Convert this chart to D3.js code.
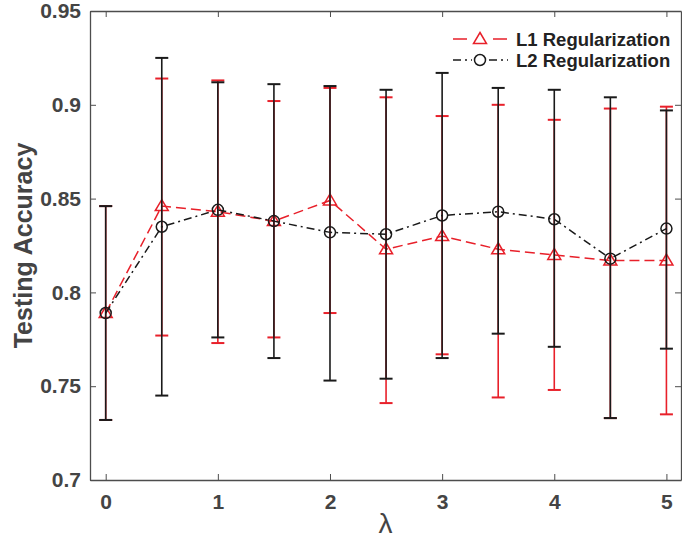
<!DOCTYPE html>
<html>
<head>
<meta charset="utf-8">
<script src="https://cdn.jsdelivr.net/npm/d3@7"></script>
<style>
  body { margin: 0; background: #fff; }
  text { font-family: "Liberation Sans", Arial, sans-serif; }
</style>
</head>
<body>
<svg id="chart"></svg>
<script>
const lambdas = [0, 0.5, 1, 1.5, 2, 2.5, 3, 3.5, 4, 4.5, 5];

const l1Mean  = [0.789, 0.846, 0.843, 0.838, 0.849, 0.823, 0.830, 0.823, 0.820, 0.817, 0.817];
const l1Upper = [0.846, 0.914, 0.913, 0.902, 0.909, 0.904, 0.894, 0.900, 0.892, 0.898, 0.899];
const l1Lower = [0.732, 0.777, 0.773, 0.776, 0.789, 0.741, 0.767, 0.744, 0.748, 0.733, 0.735];

const l2Mean  = [0.789, 0.835, 0.844, 0.838, 0.832, 0.831, 0.841, 0.843, 0.839, 0.818, 0.834];
const l2Upper = [0.846, 0.925, 0.912, 0.911, 0.910, 0.908, 0.917, 0.909, 0.908, 0.904, 0.897];
const l2Lower = [0.732, 0.745, 0.776, 0.765, 0.753, 0.754, 0.765, 0.778, 0.771, 0.733, 0.770];

const xTicks = [0, 1, 2, 3, 4, 5];
const yTicks = [0.7, 0.75, 0.8, 0.85, 0.9, 0.95];

const width = 682, height = 540;
const mLeft = 90, mRight = 681, mTop = 11, mBottom = 480;
const axisColor = "#4d4d4d";
const red = "#e8202a", black = "#1a1a1a";

const svg = d3.select("#chart")
  .attr("width", width)
  .attr("height", height);

const x = d3.scaleLinear().domain([-0.14, 5.13]).range([mLeft, mRight]);
const y = d3.scaleLinear().domain([0.7, 0.95]).range([mBottom, mTop]);

// axes (box with inward ticks)
const fmt = d => String(+d.toFixed(2));

const gx = svg.append("g")
  .attr("transform", `translate(0,${mBottom})`)
  .call(d3.axisBottom(x).tickValues(xTicks).tickFormat(fmt).tickSizeInner(-6).tickSizeOuter(0).tickPadding(14));
const gy = svg.append("g")
  .attr("transform", `translate(${mLeft},0)`)
  .call(d3.axisLeft(y).tickValues(yTicks).tickFormat(fmt).tickSizeInner(-6).tickSizeOuter(0).tickPadding(9));
const gt = svg.append("g")
  .attr("transform", `translate(0,${mTop})`)
  .call(d3.axisTop(x).tickValues(xTicks).tickFormat("").tickSizeInner(-6).tickSizeOuter(0));
const gr = svg.append("g")
  .attr("transform", `translate(${mRight},0)`)
  .call(d3.axisRight(y).tickValues(yTicks).tickFormat("").tickSizeInner(-6).tickSizeOuter(0));

[gx, gy, gt, gr].forEach(g => {
  g.select(".domain").attr("stroke", axisColor).attr("stroke-width", 1.3);
  g.selectAll(".tick line").attr("stroke", axisColor).attr("stroke-width", 1);
  g.selectAll(".tick text")
    .attr("fill", "#444")
    .attr("font-size", 21)
    .attr("font-weight", "bold")
    .attr("font-family", "Liberation Sans, Arial, sans-serif");
});

svg.append("text")
  .attr("transform", `translate(23,${(mTop + mBottom) / 2}) rotate(-90)`)
  .attr("text-anchor", "middle")
  .attr("dominant-baseline", "central")
  .attr("fill", "#444")
  .attr("font-size", 25)
  .attr("font-weight", "bold")
  .text("Testing Accuracy");

svg.append("text")
  .attr("x", (mLeft + mRight) / 2)
  .attr("y", 533)
  .attr("text-anchor", "middle")
  .attr("fill", "#444")
  .attr("font-size", 28)
  .attr("font-family", "DejaVu Serif, serif")
  .text("λ");

// series
const series = [
  { name: "L1 Regularization", mean: l1Mean, upper: l1Upper, lower: l1Lower, color: red, dash: "10,5", legendDash: "14,6", marker: "triangle" },
  { name: "L2 Regularization", mean: l2Mean, upper: l2Upper, lower: l2Lower, color: black, dash: "8,4,2,4", legendDash: "8,4,2,4", marker: "circle" }
];

const cap = 6.5;
const triPath = "M0,-6.5L6.5,4.5L-6.5,4.5Z";

function drawMarker(g, type, color) {
  if (type === "triangle") {
    g.append("path").attr("d", triPath)
      .attr("fill", "none").attr("stroke", color).attr("stroke-width", 1.5);
  } else {
    g.append("circle").attr("r", 5.5)
      .attr("fill", "none").attr("stroke", color).attr("stroke-width", 1.5);
  }
}

series.forEach(s => {
  const g = svg.append("g");
  const pts = lambdas.map((l, i) => ({ l, m: s.mean[i], u: s.upper[i], lo: s.lower[i] }));

  // error bars
  const eb = g.selectAll(".eb").data(pts).enter().append("g")
    .attr("stroke", s.color).attr("stroke-width", 1.6).attr("fill", "none");
  eb.append("line")
    .attr("x1", d => x(d.l)).attr("x2", d => x(d.l))
    .attr("y1", d => y(d.u)).attr("y2", d => y(d.lo));
  eb.append("line")
    .attr("x1", d => x(d.l) - cap).attr("x2", d => x(d.l) + cap)
    .attr("y1", d => y(d.u)).attr("y2", d => y(d.u)).attr("stroke-width", 2);
  eb.append("line")
    .attr("x1", d => x(d.l) - cap).attr("x2", d => x(d.l) + cap)
    .attr("y1", d => y(d.lo)).attr("y2", d => y(d.lo)).attr("stroke-width", 2);

  // connecting line
  g.append("path")
    .datum(pts)
    .attr("fill", "none")
    .attr("stroke", s.color)
    .attr("stroke-width", 1.5)
    .attr("stroke-dasharray", s.dash)
    .attr("d", d3.line().x(d => x(d.l)).y(d => y(d.m)));

  // markers
  g.selectAll(".mk").data(pts).enter().append("g")
    .attr("transform", d => `translate(${x(d.l)},${y(d.m)})`)
    .each(function () { drawMarker(d3.select(this), s.marker, s.color); });
});

// legend
const legend = svg.append("g");
series.forEach((s, i) => {
  const ly = 39 + i * 21;
  const row = legend.append("g");
  row.append("line")
    .attr("x1", 453).attr("x2", 508).attr("y1", ly).attr("y2", ly)
    .attr("stroke", s.color).attr("stroke-width", 1.5)
    .attr("stroke-dasharray", s.legendDash);
  const m = row.append("g").attr("transform", `translate(480,${ly})`);
  m.append("rect").attr("x", -8).attr("y", -8).attr("width", 16).attr("height", 16).attr("fill", "#fff");
  drawMarker(m, s.marker, s.color);
  row.append("text")
    .attr("x", 516).attr("y", ly)
    .attr("dominant-baseline", "central")
    .attr("fill", "#222")
    .attr("font-size", 18.5)
    .attr("font-weight", "bold")
    .text(s.name);
});
</script>
</body>
</html>
